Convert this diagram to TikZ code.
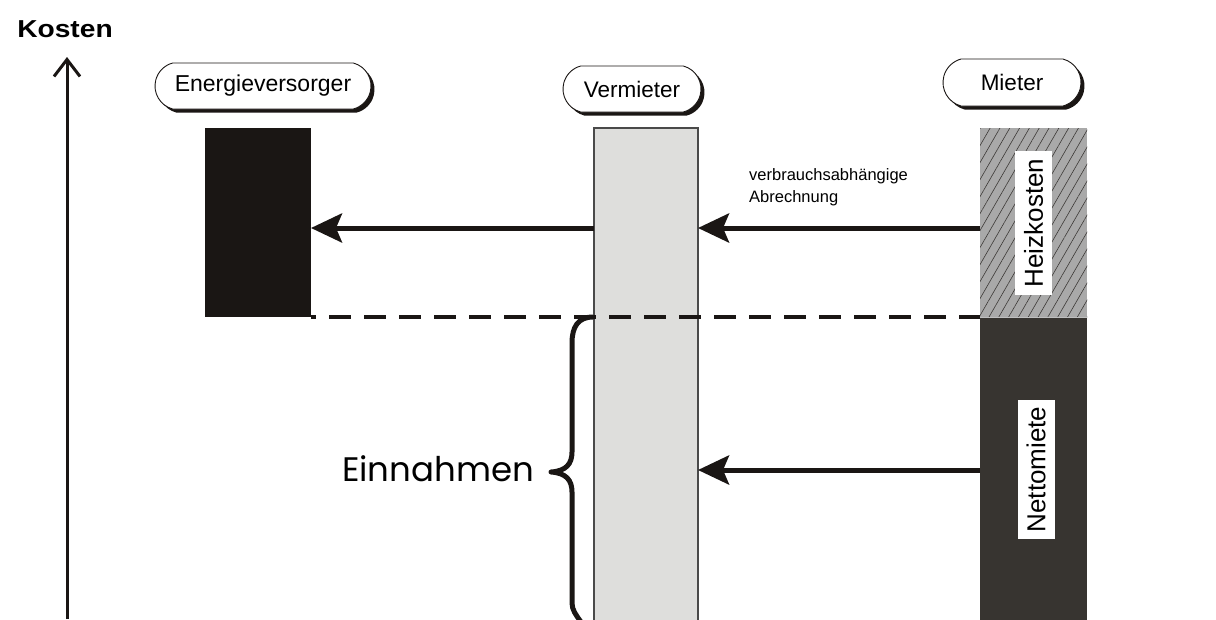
\documentclass[tikz,border=0pt]{standalone}
\usepackage{fontspec}
\setmainfont{Liberation Sans}
\newfontfamily\kostenfont[FakeStretch=1.15]{Liberation Sans}
\newfontfamily\einfont{Poppins}
\usetikzlibrary{arrows.meta,shapes.misc,shadows,patterns.meta}
\definecolor{inkc}{RGB}{26,22,20}
\definecolor{vgray}{RGB}{222,222,220}
\definecolor{outl}{RGB}{74,74,74}
\definecolor{darkc}{RGB}{55,52,48}
\definecolor{hgray}{RGB}{169,169,169}
\tikzset{
  lab/.style={rounded rectangle, rounded rectangle arc length=150, draw=inkc, line width=0.9pt, fill=white,
    inner sep=0pt, font=\fontsize{22.5}{26}\selectfont,
    drop shadow={shadow xshift=3.5pt, shadow yshift=-3.5pt, fill=inkc, opacity=1}},
  bar/.style={anchor=north west, inner sep=0pt, outer sep=0pt, minimum width=#1},
  arr/.style={line width=5pt, draw=inkc, -{Stealth[length=31pt,width=29pt,inset=6pt]}},
  dashline/.style={line width=4.5pt, draw=inkc, dash pattern=on 22pt off 13pt, dash phase=17pt},
  bracepath/.style={line width=5pt, draw=inkc, line join=round},
  axisline/.style={line width=3pt, draw=inkc, -{Straight Barb[length=17pt,width=26pt,line width=3pt]}},
  vlabel/.style={fill=white, inner sep=0pt, rotate=90, minimum width=#1, minimum height=37pt,
    font=\fontsize{26}{30}\selectfont}
}
\begin{document}
\begin{tikzpicture}[x=1pt,y=-1pt]
\useasboundingbox (0,0) rectangle (1216,619);
% title
\node[font=\kostenfont\bfseries\fontsize{24.5}{28}\selectfont, inner sep=0pt] (kosten) at (65,29.5) {Kosten};
% axis
\coordinate (axb) at (67,619);
\coordinate (axt) at (67,57);
\draw[axisline] (axb) -- (axt);
% header boxes
\node[lab, minimum width=216pt, minimum height=46pt, font=\fontsize{23}{27}\selectfont] (energie) at (263,86) {Energieversorger};
\node[lab, minimum width=138pt, minimum height=46pt] (vermieter) at (632,89) {Vermieter};
\node[lab, minimum width=138pt, minimum height=47pt] (mieter) at (1012,82.5) {Mieter};
% bars
\node[bar=106pt, fill=inkc, minimum height=189pt] (ebar) at (205,128) {};
\node[bar=104pt, fill=vgray, draw=outl, line width=1.3pt, minimum height=495pt] (vbar) at (594,128) {};
\node[bar=107pt, preaction={fill=hgray}, pattern={Lines[angle=60,distance=8.5pt,line width=0.6pt]}, pattern color=inkc!85, minimum height=189pt] (mtop) at (980,128) {};
\node[bar=107pt, fill=darkc, minimum height=305pt] (mbot) at (980,317) {};
\draw[white!75!black, line width=0.8pt] (mbot.north west) -- (mbot.north east);
% rotated labels
\node[vlabel=144pt] (heiz) at (1033.5,223) {Heizkosten};
\node[vlabel=139pt] (netto) at (1036,469.5) {Nettomiete};
% arrows
\coordinate (r1) at (0,228);
\coordinate (r2) at (0,470);
\draw[arr] (vbar.west |- r1) -- (ebar.east |- r1);
\draw[arr] (mtop.west |- r1) -- (vbar.east |- r1);
\draw[arr] (mbot.west |- r2) -- (vbar.east |- r2);
\node[align=left, anchor=north west, inner sep=0pt, font=\fontsize{16.5}{22}\selectfont] (abr) at (749,168) {verbrauchsabh\"angige\\Abrechnung};
% dashed line
\draw[dashline] (ebar.south east) -- (mtop.south west);
% brace
\draw[bracepath] (593,317) .. controls (578,317) and (572,327) .. (572,343) -- (572,452)
  .. controls (572,464) and (566,471) .. (551,472)
  .. controls (566,473) and (572,480) .. (572,492) -- (572,603)
  .. controls (572,610) and (576,615) .. (581,622);
\node[font=\einfont\fontsize{34}{40}\selectfont, inner sep=0pt] (ein) at (438,469) {Einnahmen};
\end{tikzpicture}
\end{document}
